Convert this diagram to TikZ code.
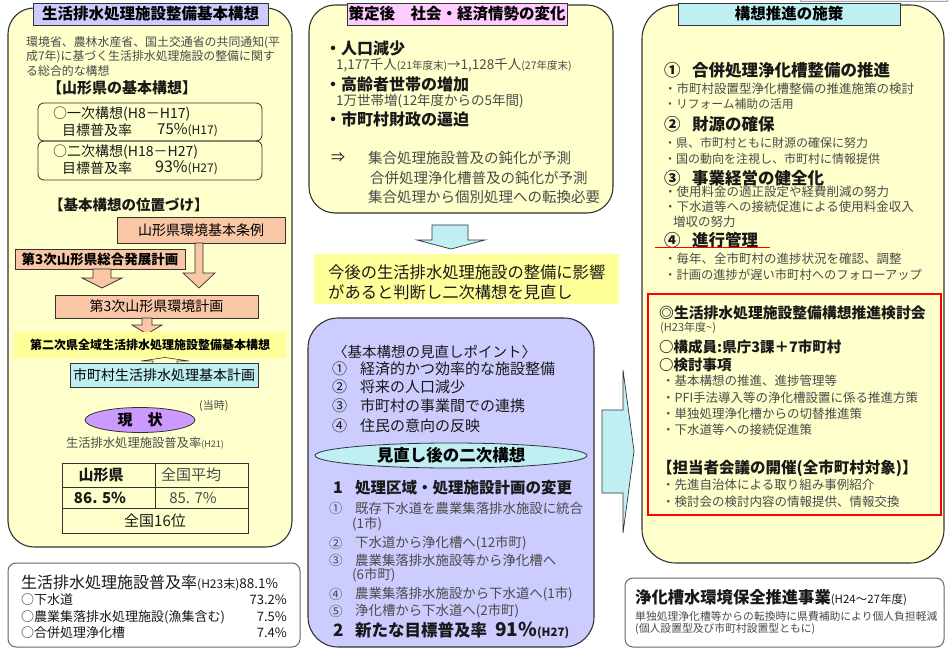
\documentclass[tikz,border=0pt]{standalone}
\usepackage{fontspec}
\setmainfont{Noto Sans CJK JP}
\usetikzlibrary{shapes.geometric}
\definecolor{pyellow}{HTML}{FFFFCC}
\definecolor{lav}{HTML}{CCCCFF}
\definecolor{mpink}{HTML}{FFCCFF}
\definecolor{cyanl}{HTML}{BFEFF3}
\definecolor{orng}{HTML}{F9C6A6}
\definecolor{ylw}{HTML}{FFFF99}
\definecolor{purp}{HTML}{CC99FF}
\definecolor{mgray}{HTML}{4A4A4A}
\definecolor{edge}{HTML}{333333}
\newcommand\fsz[1]{\fontsize{#1}{#1}\selectfont}
\begin{document}
\begin{tikzpicture}[x=1pt,y=-1pt,
 tl/.style={anchor=west,inner sep=0pt,font=\fsz{#1},text=black!90},
 tb/.style={anchor=west,inner sep=0pt,font=\fsz{#1}\bfseries,text=black!90},
 tg/.style={anchor=west,inner sep=0pt,font=\fsz{#1},text=mgray},
 panel/.style={draw=edge,line width=1.1pt},
 hbox/.style={draw=edge,line width=0.8pt,inner sep=0pt},
 dbox/.style={draw=edge,double=ylw,double distance=1.6pt,line width=0.6pt,fill=ylw,inner sep=0pt},
 blk/.style={draw=edge,line width=0.7pt,fill=cyanl},
 oarr/.style={draw=edge,line width=0.7pt,fill=orng},
 sbox/.style={draw=black!60,line width=1pt,rounded corners=8pt,fill=white},
]
\useasboundingbox (0,0) rectangle (949,652);
\fill[white] (0,0) rectangle (949,652);

% ================= LEFT PANEL =================
\draw[panel,fill=pyellow,rounded corners=26pt] (8,8) rectangle (292,547);
\node[hbox,fill=lav,minimum width=235pt,minimum height=22pt,font=\fsz{15.5}\bfseries] (lt) at (150.5,14) {生活排水処理施設整備基本構想};
\node[tg=11.9] (lp1) at (26,43) {環境省、農林水産省、国土交通省の共同通知(平};
\node[tg=11.9] (lp2) at (26,57) {成7年)に基づく生活排水処理施設の整備に関す};
\node[tg=11.9] (lp3) at (26,71) {る総合的な構想};
\node[tb=15] (lh1) at (47,88) {【山形県の基本構想】};
\draw[draw=edge,line width=0.8pt,rounded corners=6pt] (38,103) rectangle (262,141);
\draw[draw=edge,line width=0.8pt,rounded corners=6pt] (38,141) rectangle (262,180);
\node[tl=14] (a1) at (53,114) {○一次構想(H8－H17)};
\node[tl=14] (a2) at (62,130) {目標普及率};
\node[tl=15] (a3) at (157,130) {75\%\fsz{12}(H17)};
\node[tl=14] (a4) at (53,152) {○二次構想(H18－H27)};
\node[tl=14] (a5) at (62,168) {目標普及率};
\node[tl=16] (a6) at (155,168) {93\%\fsz{12}(H27)};
\node[tb=14.5] (lh2) at (49,205) {【基本構想の位置づけ】};

\node[hbox,fill=orng,minimum width=168pt,minimum height=26pt,font=\fsz{14}] (b1) at (201,230) {山形県環境基本条例};
\node[hbox,fill=orng,minimum width=170pt,minimum height=20pt,font=\fsz{13.5}\bfseries] (b2) at (100,259) {第3次山形県総合発展計画};
\draw[oarr] (195,243) -- (203,243) -- (203,273) -- (215,273) -- (199,288) -- (183,273) -- (195,273) -- cycle;
\draw[oarr] (93,269) -- (111,269) -- (111,278) -- (122,278) -- (102,288) -- (82,278) -- (93,278) -- cycle;
\node[hbox,fill=orng,minimum width=203pt,minimum height=23pt,font=\fsz{14}] (b3) at (156.5,306.5) {第3次山形県環境計画};
\draw[oarr] (142,318) -- (152,318) -- (152,325) -- (162,325) -- (147,334) -- (132,325) -- (142,325) -- cycle;
\node[dbox,minimum width=270pt,minimum height=24pt,font=\fsz{12}\bfseries] (y1) at (150,345) {第二次県全域生活排水処理施設整備基本構想};
\node[hbox,fill=cyanl,minimum width=188pt,minimum height=24pt,font=\fsz{14}] (c1) at (164,375) {市町村生活排水処理基本計画};
\draw[draw=edge,line width=0.6pt,fill=pyellow] (153,363) -- (153,361) -- (141,361) -- (165,357.5) -- (189,361) -- (177,361) -- (177,363);

\node[ellipse,draw=edge,line width=0.8pt,fill=purp,minimum width=110pt,minimum height=25pt,inner sep=0pt,font=\fsz{15}\bfseries] (gs) at (140,420) {現　状};
\node[tg=11] (tj) at (199,406) {(当時)};
\node[tg=12.3,anchor=center] (h21) at (145,443) {生活排水処理施設普及率\fsz{9}(H21)};
\draw[draw=edge,line width=0.8pt] (62,463) rectangle (248,533);
\draw[draw=edge,line width=0.8pt] (62,487) -- (248,487) (62,508) -- (248,508) (155,463) -- (155,508);
\node[tb=15,anchor=center] (t11) at (101,475) {山形県};
\node[tg=15,anchor=center] (t12) at (191,475) {全国平均};
\node[tb=15,anchor=center] (t21) at (100,497.5) {86. 5\%};
\node[tg=15,anchor=center] (t22) at (193,497.5) {85. 7\%};
\node[tl=15,anchor=center] (t3) at (155,520.5) {全国16位};

\draw[sbox] (8,563) rectangle (300,647);
\node[tl=16] (s1) at (21,583) {生活排水処理施設普及率\fsz{12}(H23末)\fsz{13.5}88.1\%};
\node[tl=13] (s2) at (21,600) {○下水道};
\node[tl=13,anchor=east] (s2v) at (287,600) {73.2\%};
\node[tl=13] (s3) at (21,617) {○農業集落排水処理施設(漁集含む)};
\node[tl=13,anchor=east] (s3v) at (287,617) {7.5\%};
\node[tl=13] (s4) at (21,633) {○合併処理浄化槽};
\node[tl=13,anchor=east] (s4v) at (287,633) {7.4\%};

% ================= MIDDLE =================
\draw[panel,fill=pyellow,rounded corners=26pt] (309,5) rectangle (613,213);
\node[hbox,fill=mpink,minimum width=220pt,minimum height=22pt,font=\fsz{15.5}\bfseries] (mt) at (457,14) {策定後　社会・経済情勢の変化};
\node[tb=16] (m1) at (325,48) {・人口減少};
\node[tg=13.5] (m2) at (336,65) {1,177千人\fsz{10.5}(21年度末)\fsz{13.5}→1,128千人\fsz{10.5}(27年度末)};
\node[tb=16] (m3) at (325,84) {・高齢者世帯の増加};
\node[tg=13.5] (m4) at (336,101) {1万世帯増(12年度からの5年間)};
\node[tb=16] (m5) at (325,119) {・市町村財政の逼迫};
\node[tl=14] (m6) at (331,158) {⇒};
\node[tg=14.5] (m7) at (368,158) {集合処理施設普及の鈍化が予測};
\node[tg=14.5] (m8) at (370,178) {合併処理浄化槽普及の鈍化が予測};
\node[tg=14.5] (m9) at (368,197) {集合処理から個別処理への転換必要};

\draw[blk] (432,225) -- (468,225) -- (468,240) -- (485,240) -- (451,249) -- (417,240) -- (432,240) -- cycle;

\node[dbox,minimum width=303pt,minimum height=48pt] (ym) at (466.5,279) {};
\node[tl=16.3] (ym1) at (328,272) {今後の生活排水処理施設の整備に影響};
\node[tl=16.3] (ym2) at (328,292) {があると判断し二次構想を見直し};

\draw[panel,fill=lav,rounded corners=30pt] (308,318) rectangle (594,647);
\node[tl=14.5] (p0) at (333,352) {〈基本構想の見直しポイント〉};
\node[tl=15] (p1n) at (332,369) {①};
\node[tl=15] (p1) at (360,369) {経済的かつ効率的な施設整備};
\node[tl=15] (p2n) at (332,387) {②};
\node[tl=15] (p2) at (360,387) {将来の人口減少};
\node[tl=15] (p3n) at (332,406) {③};
\node[tl=15] (p3) at (360,406) {市町村の事業間での連携};
\node[tl=15] (p4n) at (332,426) {④};
\node[tl=15] (p4) at (360,426) {住民の意向の反映};
\node[ellipse,draw=edge,line width=0.8pt,fill=cyanl,minimum width=272pt,minimum height=25pt,inner sep=0pt,font=\fsz{16.5}\bfseries] (me) at (451,455.5) {見直し後の二次構想};
\node[tb=16] (q1n) at (333,488) {1};
\node[tb=15.5] (q1) at (355,488) {処理区域・処理施設計画の変更};
\node[tg=13.4] (r1n) at (329,508) {①};
\node[tg=13.4] (r1) at (355,508) {既存下水道を農業集落排水施設に統合};
\node[tg=13.4] (r1b) at (352,524) {(1市)};
\node[tg=13.4] (r2n) at (329,543) {②};
\node[tg=13.4] (r2) at (355,543) {下水道から浄化槽へ(12市町)};
\node[tg=13.4] (r3n) at (329,560) {③};
\node[tg=13.4] (r3) at (355,560) {農業集落排水施設等から浄化槽へ};
\node[tg=13.4] (r3b) at (352,575) {(6市町)};
\node[tg=13.4] (r4n) at (329,594) {④};
\node[tg=13.4] (r4) at (355,594) {農業集落排水施設から下水道へ(1市)};
\node[tg=13.4] (r5n) at (329,611) {⑤};
\node[tg=13.4] (r5) at (355,611) {浄化槽から下水道へ(2市町)};
\node[tb=17] (q2n) at (333,630) {2};
\node[tb=16.5] (q2) at (355,630) {新たな目標普及率};
\node[tb=19] (q2v) at (495,630) {91\%\fsz{11.5}(H27)};

\draw[blk] (602,410) -- (623,410) -- (623,370) -- (634,451) -- (623,533) -- (623,493) -- (602,493) -- cycle;

% ================= RIGHT =================
\draw[draw=gray!70,line width=1pt,fill=gray!15] (800,-8) rectangle (947,2);
\draw[panel,fill=pyellow,rounded corners=34pt] (642,5) rectangle (944,563);
\node[hbox,fill=cyanl,minimum width=222pt,minimum height=22pt,font=\fsz{15.5}\bfseries] (rt) at (789,14) {構想推進の施策};
\node[tb=16.5] (k1n) at (664,70) {①};
\node[tb=16.5] (k1) at (692,70) {合併処理浄化槽整備の推進};
\node[tg=12.5] (k11) at (664,89) {・市町村設置型浄化槽整備の推進施策の検討};
\node[tg=11.8] (k12) at (664,104) {・リフォーム補助の活用};
\node[tb=16.5] (k2n) at (664,124) {②};
\node[tb=16.5] (k2) at (692,124) {財源の確保};
\node[tg=12] (k21) at (664,143) {・県、市町村ともに財源の確保に努力};
\node[tg=12] (k22) at (664,159) {・国の動向を注視し、市町村に情報提供};
\node[tb=16.5] (k3n) at (664,178) {③};
\node[tb=16.5] (k3) at (692,178) {事業経営の健全化};
\node[tg=12.5] (k31) at (664,192) {・使用料金の適正設定や経費削減の努力};
\node[tg=12.5] (k32) at (664,207) {・下水道等への接続促進による使用料金収入};
\node[tg=12.5] (k33) at (673,222) {増収の努力};
\node[tb=16.5] (k4n) at (664,240) {④};
\node[tb=16.5] (k4) at (692,240) {進行管理};
\draw[red,line width=1.5pt] (655,247.5) -- (770,247.5);
\node[tg=12.5] (k41) at (664,259) {・毎年、全市町村の進捗状況を確認、調整};
\node[tg=12.3] (k42) at (664,275) {・計画の進捗が遅い市町村へのフォローアップ};

\draw[red,line width=1.8pt] (648,294) rectangle (941,515);
\node[tb=14.8] (e1) at (659,313) {◎生活排水処理施設整備構想推進検討会};
\node[tg=11] (e2) at (660,328) {(H23年度\string~)};
\node[tb=14.5] (e3) at (659,347) {○構成員:県庁3課＋7市町村};
\node[tb=14.5] (e4) at (659,365) {○検討事項};
\node[tg=12.5] (e5) at (662,381) {・基本構想の推進、進捗管理等};
\node[tg=12.5] (e6) at (662,398) {・PFI手法導入等の浄化槽設置に係る推進方策};
\node[tg=12.5] (e7) at (662,414) {・単独処理浄化槽からの切替推進策};
\node[tg=12.5] (e8) at (662,430) {・下水道等への接続促進策};
\node[tb=15.5] (e9) at (657,468) {【担当者会議の開催(全市町村対象)】};
\node[tg=12.5] (e10) at (662,485) {・先進自治体による取り組み事例紹介};
\node[tg=12.5] (e11) at (662,502) {・検討会の検討内容の情報提供、情報交換};

\draw[sbox] (625,578) rectangle (944,647);
\node[tb=16.3] (f1) at (635,598) {浄化槽水環境保全推進事業\mdseries\fsz{11.5}(H24～27年度)};
\node[tg=10.8] (f2) at (635,616) {単独処理浄化槽等からの転換時に県費補助により個人負担軽減};
\node[tg=10.8] (f3) at (635,629) {(個人設置型及び市町村設置型ともに)};
\end{tikzpicture}
\end{document}
